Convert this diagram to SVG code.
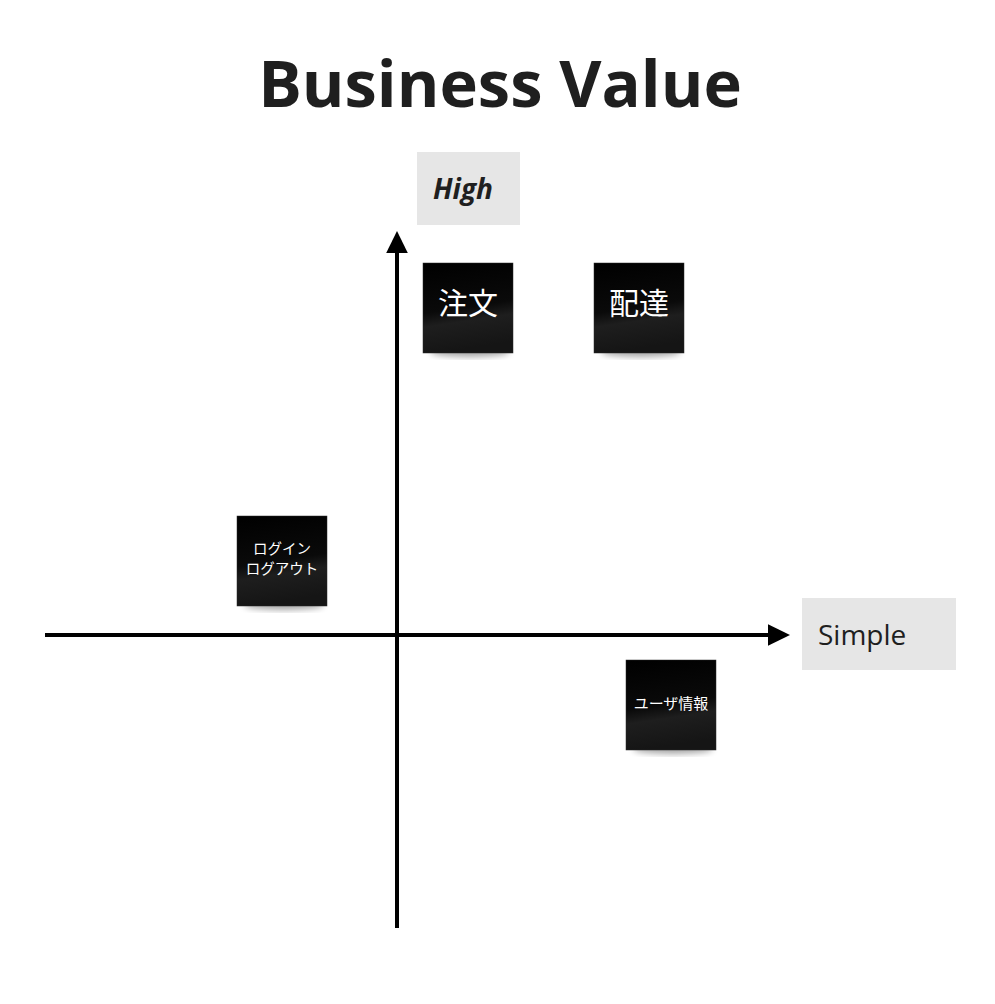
<svg xmlns="http://www.w3.org/2000/svg" width="995" height="1004" viewBox="0 0 995 1004">
<style>
.title{font-family:"Open Sans","Noto Sans",sans-serif;font-weight:700;font-size:65px;fill:#1f1f1f}
.lbl{font-family:"Open Sans","Noto Sans",sans-serif;font-size:28px;fill:#1f1f1f}
.note{fill:url(#ng);stroke:#2a2a2a;stroke-width:0.5}
.nt{font-family:"Open Sans","Noto Sans CJK JP",sans-serif;fill:#ffffff;text-anchor:middle}
.axis{stroke:#000;stroke-width:4;fill:none}
</style>
<defs>
<linearGradient id="ng" x1="0" y1="0" x2="0.15" y2="1">
<stop offset="0" stop-color="#000"/>
<stop offset="0.55" stop-color="#0a0a0a"/>
<stop offset="0.7" stop-color="#1e1e1e"/>
<stop offset="1" stop-color="#151515"/>
</linearGradient>
<filter id="sh" x="-20%" y="-20%" width="140%" height="150%">
<feGaussianBlur stdDeviation="3"/>
</filter>
<marker id="ah" markerWidth="6" markerHeight="6" refX="3" refY="3" orient="auto" markerUnits="strokeWidth">
<path d="M0,0.3 L5.5,3 L0,5.7 Z" fill="#000"/>
</marker>
</defs>
<text class="title" x="500" y="107" text-anchor="middle">Business Value</text>
<g id="connectors">
<line class="axis" x1="397" y1="928" x2="397" y2="241" marker-end="url(#ah)"/>
<line class="axis" x1="45" y1="635" x2="780" y2="635" marker-end="url(#ah)"/>
</g>
<g id="high">
<rect x="417" y="152" width="103" height="73" fill="#e6e6e6"/>
<text class="lbl" x="463" y="199" text-anchor="middle" font-weight="700" font-style="italic">High</text>
</g>
<g id="simple">
<rect x="802" y="598" width="154" height="72" fill="#e6e6e6"/>
<text class="lbl" x="818" y="645">Simple</text>
</g>
<g id="note-chumon">
<ellipse cx="470" cy="352" rx="40" ry="5" fill="#000" opacity="0.35" filter="url(#sh)"/>
<rect class="note" x="423" y="263" width="90" height="90"/>
<text class="nt" x="468" y="314" font-size="30">注文</text>
</g>
<g id="note-haitatsu">
<ellipse cx="641" cy="352" rx="40" ry="5" fill="#000" opacity="0.35" filter="url(#sh)"/>
<rect class="note" x="594" y="263" width="90" height="90"/>
<text class="nt" x="639" y="314" font-size="30">配達</text>
</g>
<g id="note-login">
<ellipse cx="284" cy="605" rx="40" ry="5" fill="#000" opacity="0.35" filter="url(#sh)"/>
<rect class="note" x="237" y="516" width="90" height="90"/>
<text class="nt" x="282" y="554" font-size="14.5">ログイン</text>
<text class="nt" x="282" y="574" font-size="14.5">ログアウト</text>
</g>
<g id="note-user">
<ellipse cx="673" cy="749" rx="40" ry="5" fill="#000" opacity="0.35" filter="url(#sh)"/>
<rect class="note" x="626" y="660" width="90" height="90"/>
<text class="nt" x="671" y="709" font-size="15">ユーザ情報</text>
</g>
</svg>
